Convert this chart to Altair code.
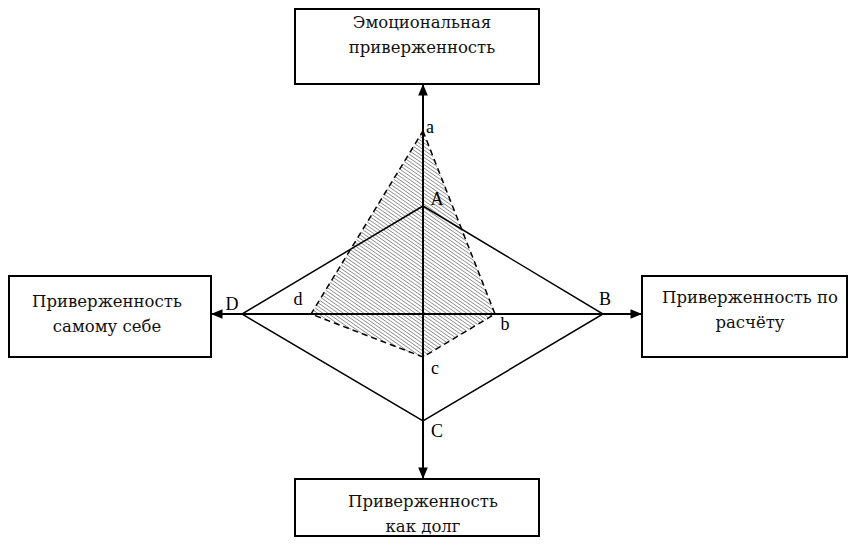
import altair as alt
import pandas as pd

# ---- data -------------------------------------------------------------
axis_names = ["Эмоциональная\nприверженность", "Приверженность по\nрасчёту",
              "Приверженность\nкак долг", "Приверженность\nсамому себе"]
outer_labels = ["A", "B", "C", "D"]
outer_values = [108, 180, 107, 181]   # solid diamond
inner_labels = ["a", "b", "c", "d"]
inner_values = [183, 72, 43, 112]     # dashed, hatched shape

# directions: up, right, down, left
dirs = [(0, 1), (1, 0), (0, -1), (-1, 0)]

FONT = "Liberation Serif"
FONT2 = "DejaVu Serif"
XD = [-415, 425]
YD = [-223, 306]
W, H = 840, 529

def pts(values):
    return [(v * dx, v * dy) for v, (dx, dy) in zip(values, dirs)]

outer_pts = pts(outer_values)
inner_pts = pts(inner_values)

def poly_df(p):
    rows = [{"x": x, "y": y, "o": i} for i, (x, y) in enumerate(p)]
    rows.append({"x": p[0][0], "y": p[0][1], "o": len(p)})
    return pd.DataFrame(rows)

# hatching segments clipped to inner polygon (lines running down-right)
s = 0.7
step = 3.6
vals = [y + s * x for x, y in inner_pts]
k = min(vals) + step / 2
hatch = []
while k < max(vals):
    found = []
    n = len(inner_pts)
    for i in range(n):
        p, q = inner_pts[i], inner_pts[(i + 1) % n]
        fp = p[1] + s * p[0] - k
        fq = q[1] + s * q[0] - k
        if fp == fq:
            continue
        if (fp <= 0 <= fq) or (fq <= 0 <= fp):
            t = fp / (fp - fq)
            found.append((p[0] + t * (q[0] - p[0]), p[1] + t * (q[1] - p[1])))
    if len(found) >= 2:
        found.sort()
        (x1, y1), (x2, y2) = found[0], found[-1]
        hatch.append({"x": x1, "y": y1, "x2": x2, "y2": y2})
    k += step
hatch_df = pd.DataFrame(hatch)

xs = alt.Scale(domain=XD, nice=False, zero=False)
ys = alt.Scale(domain=YD, nice=False, zero=False)

def X(f="x"):
    return alt.X(f"{f}:Q", scale=xs, axis=None)

def Y(f="y"):
    return alt.Y(f"{f}:Q", scale=ys, axis=None)

hatch_layer = alt.Chart(hatch_df).mark_rule(color="#8c8c8c", strokeWidth=1.0).encode(
    x=X(), y=Y(), x2="x2:Q", y2="y2:Q")

outer_layer = alt.Chart(poly_df(outer_pts)).mark_line(
    color="black", strokeWidth=1.5, strokeJoin="miter").encode(x=X(), y=Y(), order="o:Q")

inner_layer = alt.Chart(poly_df(inner_pts)).mark_line(
    color="black", strokeWidth=1.5, strokeDash=[6, 4]).encode(x=X(), y=Y(), order="o:Q")

# boxes (layout)
boxes = pd.DataFrame([
    {"x": -128, "x2": 116, "y": 230, "y2": 305},
    {"x": 219, "x2": 424, "y": 38, "y2": -43},
    {"x": -128, "x2": 116, "y": -165, "y2": -222},
    {"x": -414, "x2": -212, "y": 38, "y2": -43},
])
box_layer = alt.Chart(boxes).mark_rect(fill="white", stroke="black", strokeWidth=2).encode(
    x=X(), x2="x2:Q", y=Y(), y2="y2:Q")

# axis lines between boxes
axes_df = pd.DataFrame([
    {"x": -211, "x2": 218, "y": 0, "y2": 0},
    {"x": 0, "x2": 0, "y": 229, "y2": -164},
])
axes_layer = alt.Chart(axes_df).mark_rule(color="black", strokeWidth=2).encode(
    x=X(), x2="x2:Q", y=Y(), y2="y2:Q")

arrow_df = pd.DataFrame([
    {"x": 0, "y": 230, "shape": "M0,0L-0.42,1L0.42,1Z"},
    {"x": 219, "y": 0, "shape": "M0,0L-1,-0.42L-1,0.42Z"},
    {"x": 0, "y": -165, "shape": "M0,0L-0.42,-1L0.42,-1Z"},
    {"x": -212, "y": 0, "shape": "M0,0L1,-0.42L1,0.42Z"},
])
arrow_layers = [
    alt.Chart(arrow_df.iloc[[i]]).mark_point(
        shape=arrow_df.loc[i, "shape"], filled=True, color="black", size=529, opacity=1,
        strokeWidth=0).encode(x=X(), y=Y())
    for i in range(4)
]

# box texts (centre positions of each text block)
text_pos = [(-1, 279), (327, 4), (0, -200), (-316, 0)]
text_rows = []
for name, (tx, ty) in zip(axis_names, text_pos):
    lines = name.split("\n")
    for j, ln in enumerate(lines):
        off = (len(lines) - 1) / 2 - j
        text_rows.append({"x": tx, "y": ty + off * 25, "t": ln})
text_df = pd.DataFrame(text_rows)
text_layer = alt.Chart(text_df).mark_text(
    font=FONT2, fontSize=16.5, color="#111111", baseline="middle", align="center").encode(
    x=X(), y=Y(), text="t:N")

# vertex labels
lab_rows = []
lab_off_outer = [(14, 6), (2, 14), (14, -11), (-10, 9)]
lab_off_inner = [(7, 3), (10, -11), (12, -12), (-13, 14)]
for lab, (px, py), (ox, oy) in zip(outer_labels, outer_pts, lab_off_outer):
    lab_rows.append({"x": px + ox, "y": py + oy, "t": lab})
for lab, (px, py), (ox, oy) in zip(inner_labels, inner_pts, lab_off_inner):
    lab_rows.append({"x": px + ox, "y": py + oy, "t": lab})
lab_df = pd.DataFrame(lab_rows)
lab_layer = alt.Chart(lab_df).mark_text(
    font=FONT, fontSize=18, color="black", baseline="middle", align="center").encode(
    x=X(), y=Y(), text="t:N")

chart = alt.layer(
    hatch_layer, outer_layer, inner_layer, axes_layer, *arrow_layers,
    box_layer, text_layer, lab_layer
).properties(width=W, height=H, padding=0, autosize=alt.AutoSizeParams(type="none"),
             background="white").configure_view(stroke=None)

chart.save("out.html", embed_options={"renderer": "svg", "actions": False})
